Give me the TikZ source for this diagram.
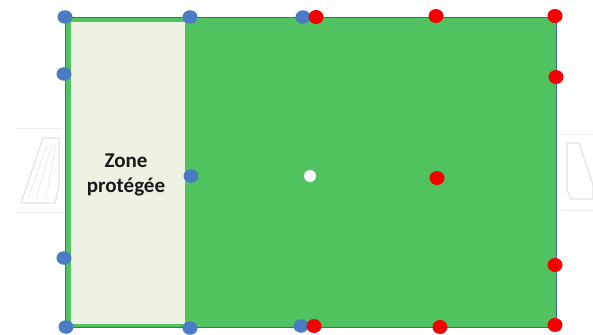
\documentclass[tikz,border=0pt]{standalone}
\usetikzlibrary{shapes.geometric}
\usepackage{fontspec}
\setmainfont{Carlito}
\definecolor{fieldgreen}{HTML}{50C260}
\definecolor{zonefill}{HTML}{EEF2E2}
\definecolor{edgeblue}{HTML}{41689C}
\definecolor{dotblue}{HTML}{4A7CC4}
\definecolor{dotred}{HTML}{F40000}
\definecolor{goalgrey}{HTML}{E4E4E4}
\begin{document}
\begin{tikzpicture}[x=1pt,y=-1pt,
  bluedot/.style={ellipse,fill=dotblue,inner sep=0pt,minimum width=15pt,minimum height=13.5pt},
  reddot/.style={ellipse,fill=dotred,inner sep=0pt,minimum width=15pt,minimum height=14pt},
  whitedot/.style={circle,fill=white,inner sep=0pt,minimum size=12pt},
  goal/.style={draw=goalgrey,line width=1.2pt,fill=white},
  faint/.style={draw=goalgrey!60,line width=0.6pt}]
\useasboundingbox (0,0) rectangle (593,334);
% goals
\draw[faint] (15,128) -- (62,128);
\draw[faint] (15,212) -- (62,212);
\draw[goal] (43,138) -- (59,138) -- (59,186) -- (55,203) -- (21,203) -- cycle;
\draw[goalgrey,line width=0.5pt] (47,145) -- (28,198) (52,145) -- (36,198) (56,145) -- (46,198);
\draw[faint] (562,134) -- (593,134);
\draw[faint] (562,210) -- (593,210);
\draw[goal] (567,143) -- (579,143) -- (593,185) -- (593,199) -- (571,199) -- (567,190) -- cycle;
% field
\node[draw=edgeblue,line width=1.2pt,fill=fieldgreen,minimum width=491pt,minimum height=310pt,inner sep=0pt,anchor=north west] (field) at (65,17) {};
\node[draw=fieldgreen,line width=3pt,fill=zonefill,minimum width=117pt,minimum height=304pt,inner sep=0pt,anchor=north west] (zone) at (67.5,19.5) {};
\node[align=center,font=\fontsize{21}{25}\selectfont\bfseries,text=black!90] (label) at (126,175) {Zone\\protégée};
% blue dots
\node[bluedot] (b1) at (65,17) {};
\node[bluedot] (b2) at (190,17) {};
\node[bluedot] (b3) at (303,17) {};
\node[bluedot] (b4) at (64,74) {};
\node[bluedot] (b5) at (191,176) {};
\node[bluedot] (b6) at (64,258) {};
\node[bluedot] (b7) at (66,327) {};
\node[bluedot] (b8) at (190,328) {};
\node[bluedot] (b9) at (301,326) {};
% red dots
\node[reddot] (r1) at (316,17) {};
\node[reddot] (r2) at (436,16) {};
\node[reddot] (r3) at (555,16) {};
\node[reddot] (r4) at (556,77) {};
\node[reddot] (r5) at (437,178) {};
\node[reddot] (r6) at (555,265) {};
\node[reddot] (r7) at (555,325) {};
\node[reddot] (r8) at (440,327) {};
\node[reddot] (r9) at (314,326) {};
% centre
\node[whitedot] (c) at (310,176) {};
\end{tikzpicture}
\end{document}
